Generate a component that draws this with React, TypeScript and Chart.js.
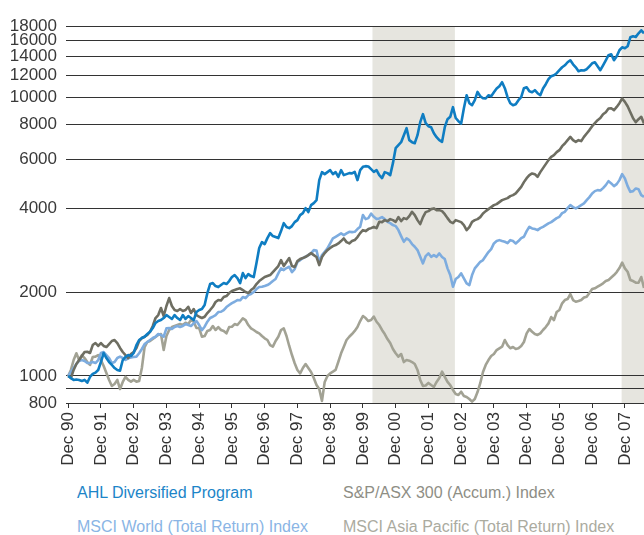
import React, { useEffect, useRef } from 'react';
import { Chart, registerables } from 'chart.js';

Chart.register(...registerables);

const seriesNames = [
  'AHL Diversified Program',
  'S&P/ASX 300 (Accum.) Index',
  'MSCI World (Total Return) Index',
  'MSCI Asia Pacific (Total Return) Index',
];

const xTickLabels = [
  'Dec 90', 'Dec 91', 'Dec 92', 'Dec 93', 'Dec 94', 'Dec 95', 'Dec 96', 'Dec 97', 'Dec 98',
  'Dec 99', 'Dec 00', 'Dec 01', 'Dec 02', 'Dec 03', 'Dec 04', 'Dec 05', 'Dec 06', 'Dec 07',
];

const yTickValues = [800, 900, 1000, 2000, 4000, 6000, 8000, 10000, 12000, 14000, 16000, 18000];

// months since Dec 90
const shadedPeriods: [number, number][] = [
  [111.5, 141.7],
  [202.8, 212],
];

const ahl = [
  1000, 983, 968, 971, 968, 960, 968, 946, 992, 1017, 1028, 1051,
  1122, 1209, 1160, 1122, 1095, 1068, 1051, 1045, 1141, 1170, 1189, 1179,
  1209, 1291, 1346, 1368, 1383, 1414, 1441, 1486, 1549, 1574, 1587, 1614,
  1654, 1627, 1601, 1654, 1614, 1587, 1654, 1601, 1641, 1614, 1587, 1696,
  1724, 1738, 1797, 1984, 2137, 2154, 2102, 2084, 2119, 2154, 2137, 2190,
  2264, 2301, 2245, 2154, 2340, 2245, 2320, 2282, 2264, 2541, 2876, 3021,
  2972, 3123, 3254, 3175, 3149, 3123, 3309, 3534, 3420, 3391, 3448, 3563,
  3623, 3776, 3838, 4000, 3870, 4100, 4169, 4273, 5040, 5384, 5296, 5384,
  5474, 5296, 5384, 5179, 5474, 5252, 5296, 5340, 5330, 5397, 5040, 5474,
  5625, 5657, 5640, 5519, 5397, 5474, 5252, 5123, 5384, 5340, 5252, 5799,
  6563, 6728, 6896, 7306, 7741, 7011, 6896, 6839, 7306, 8134, 8688, 8067,
  7869, 7805, 7428, 7186, 7011, 6913, 7805, 8337, 8504, 9205, 8420, 8201,
  8043, 9129, 10163, 9514, 9358, 9752, 10444, 10079, 9914, 9890, 10163, 10079,
  10418, 10741, 10947, 11314, 10766, 9995, 9514, 9358, 9436, 9752, 9995, 10766,
  10856, 10504, 10418, 10591, 10332, 10163, 10741, 11128, 11597, 11888, 11986, 12185,
  12492, 12803, 13015, 13343, 13564, 13123, 12803, 12389, 12492, 12470, 12596, 12909,
  13233, 13343, 12909, 12492, 13015, 13564, 14138, 14255, 13564, 14022, 14733, 15101,
  14977, 15228, 16400, 16536, 16450, 16950, 17376, 16950,
];

const asx300 = [
  1000, 983, 1051, 1104, 1141, 1179, 1219, 1222, 1209, 1291, 1313, 1281,
  1313, 1281, 1270, 1302, 1335, 1346, 1313, 1260, 1219, 1189, 1160, 1199,
  1219, 1260, 1335, 1368, 1383, 1403, 1441, 1511, 1614, 1654, 1753, 1641,
  1782, 1903, 1782, 1724, 1710, 1738, 1710, 1724, 1771, 1682, 1738, 1654,
  1631, 1614, 1631, 1682, 1724, 1771, 1842, 1872, 1865, 1919, 1935, 1984,
  2017, 2033, 2050, 2062, 2033, 2000, 1984, 2033, 2067, 2137, 2190, 2227,
  2264, 2282, 2301, 2359, 2418, 2479, 2604, 2479, 2562, 2648, 2479, 2458,
  2583, 2626, 2648, 2676, 2714, 2759, 2714, 2670, 2499, 2670, 2759, 2828,
  2876, 2923, 2948, 2989, 3047, 3115, 3021, 2989, 3047, 3072, 3149, 3254,
  3336, 3309, 3364, 3391, 3428, 3391, 3572, 3563, 3623, 3593, 3653, 3623,
  3572, 3714, 3593, 3683, 3653, 3745, 3880, 3776, 3623, 3505, 3714, 3870,
  3902, 3967, 3990, 3935, 3935, 3902, 3806, 3683, 3572, 3534, 3623, 3593,
  3563, 3477, 3336, 3420, 3572, 3623, 3653, 3714, 3828, 3902, 3967, 4033,
  4100, 4134, 4203, 4273, 4309, 4344, 4416, 4453, 4516, 4641, 4769, 4958,
  5123, 5252, 5326, 5296, 5179, 5384, 5565, 5752, 5945, 6109, 6196, 6350,
  6456, 6673, 6822, 7011, 7204, 7011, 6913, 7011, 6955, 7204, 7412, 7619,
  7869, 8067, 8270, 8420, 8688, 8833, 9107, 9129, 8979, 9228, 9514, 9889,
  9616, 9281, 8833, 8399, 8134, 8337, 8504, 8043,
];

const msciWorld = [
  1000, 1034, 1068, 1104, 1132, 1141, 1132, 1113, 1113, 1122, 1113, 1141,
  1209, 1219, 1189, 1160, 1113, 1122, 1160, 1173, 1160, 1141, 1157, 1165,
  1170, 1173, 1206, 1250, 1302, 1324, 1346, 1368, 1383, 1414, 1403, 1383,
  1482, 1486, 1474, 1498, 1511, 1498, 1511, 1535, 1523, 1511, 1544, 1574,
  1523, 1461, 1502, 1565, 1614, 1631, 1654, 1696, 1700, 1724, 1767, 1797,
  1826, 1846, 1872, 1868, 1919, 1903, 1951, 1967, 2000, 2050, 2084, 2090,
  2102, 2119, 2149, 2190, 2227, 2334, 2432, 2398, 2438, 2464, 2359, 2418,
  2562, 2604, 2648, 2676, 2714, 2752, 2828, 2820, 2562, 2714, 2789, 2868,
  2989, 3115, 3157, 3201, 3246, 3201, 3246, 3289, 3281, 3289, 3364, 3428,
  3776, 3653, 3683, 3822, 3723, 3653, 3674, 3714, 3653, 3572, 3534, 3477,
  3448, 3336, 3175, 3029, 3115, 3071, 2972, 2907, 2828, 2676, 2534, 2692,
  2752, 2676, 2714, 2676, 2752, 2670, 2626, 2432, 2301, 2090, 2227, 2264,
  2334, 2240, 2149, 2119, 2301, 2432, 2499, 2568, 2604, 2692, 2783, 2852,
  2989, 3047, 3071, 3047, 3029, 2997, 3071, 3047, 2989, 3047, 3123, 3157,
  3309, 3428, 3383, 3364, 3336, 3391, 3428, 3477, 3526, 3563, 3623, 3683,
  3723, 3838, 3880, 4000, 4100, 4033, 3990, 4043, 4100, 4158, 4273, 4380,
  4516, 4603, 4640, 4625, 4718, 4836, 4999, 4904, 4796, 4876, 5040, 5296,
  5111, 4796, 4576, 4603, 4706, 4676, 4453, 4391,
];

const msciAsiaPacific = [
  1000, 1051, 1141, 1206, 1141, 1189, 1160, 1122, 1095, 1170, 1173, 1189,
  1141, 1086, 1025, 968, 921, 936, 968, 898, 952, 992, 968, 954,
  968, 954, 960, 1068, 1270, 1324, 1335, 1357, 1380, 1403, 1414, 1239,
  1391, 1462, 1498, 1511, 1523, 1535, 1523, 1552, 1535, 1587, 1565, 1486,
  1486, 1383, 1391, 1450, 1462, 1511, 1462, 1498, 1462, 1450, 1422, 1498,
  1502, 1535, 1523, 1565, 1610, 1587, 1523, 1482, 1462, 1438, 1422, 1391,
  1365, 1346, 1291, 1274, 1335, 1383, 1462, 1482, 1391, 1281, 1189, 1111,
  1051, 1022, 1068, 1104, 1068, 1034, 983, 928, 898, 814, 952, 1000,
  1022, 1036, 1051, 1125, 1206, 1274, 1346, 1383, 1414, 1450, 1498, 1574,
  1641, 1614, 1574, 1587, 1634, 1565, 1523, 1462, 1414, 1357, 1313, 1250,
  1206, 1173, 1199, 1122, 1141, 1135, 1122, 1104, 1051, 968, 921, 925,
  944, 928, 913, 952, 983, 1036, 992, 952, 928, 891, 862, 855,
  878, 848, 841, 827, 809, 827, 876, 942, 1034, 1095, 1141, 1179,
  1199, 1239, 1257, 1274, 1346, 1291, 1257, 1270, 1250, 1257, 1281, 1324,
  1422, 1474, 1441, 1414, 1403, 1422, 1462, 1498, 1544, 1627, 1587, 1696,
  1724, 1822, 1872, 1888, 1967, 1872, 1846, 1857, 1872, 1911, 1924, 1984,
  2050, 2062, 2090, 2119, 2149, 2190, 2209, 2254, 2301, 2359, 2438, 2551,
  2432, 2365, 2209, 2190, 2160, 2160, 2264, 2067,
];

const lineColors = ['#0f7dc2', '#6e6e62', '#7dacdf', '#a2a294'];
const legendColors = ['#1c85c8', '#8e8e85', '#8ab5e5', '#abab9f'];

const FONT = "'Liberation Sans', Arial, Helvetica, sans-serif";
const CANVAS_H = 480;
const PLOT_BOTTOM = 403;

export default function App() {
  const ref = useRef<HTMLCanvasElement | null>(null);

  useEffect(() => {
    if (!ref.current) return;
    const shade = {
      id: 'shade',
      beforeDraw(chart: any) {
        const { ctx, chartArea, scales } = chart;
        ctx.save();
        ctx.fillStyle = '#e6e5df';
        for (const [a, b] of shadedPeriods) {
          const x1 = Math.max(scales.x.getPixelForValue(a), chartArea.left);
          const x2 = Math.min(scales.x.getPixelForValue(b), chartArea.right);
          ctx.fillRect(x1, chartArea.top, x2 - x1, chartArea.bottom - chartArea.top);
        }
        ctx.restore();
      },
    };

    const allSeries = [ahl, asx300, msciWorld, msciAsiaPacific];
    const chart = new Chart(ref.current, {
      type: 'line',
      data: {
        datasets: allSeries.map((s, k) => ({
          label: seriesNames[k],
          data: s.map((v, i) => ({ x: i, y: v })),
          borderColor: lineColors[k],
          backgroundColor: lineColors[k],
          borderWidth: 2.6,
          pointRadius: 0,
          tension: 0,
          fill: false,
          borderJoinStyle: 'round' as const,
        })),
      },
      options: {
        responsive: false,
        animation: false,
        events: [],
        layout: { padding: { top: 26, right: 0, left: 0, bottom: 0 } },
        plugins: { legend: { display: false }, tooltip: { enabled: false } },
        scales: {
          x: {
            type: 'linear',
            min: -0.8,
            max: 211,
            afterBuildTicks: (s: any) => {
              s.ticks = xTickLabels.map((_, k) => ({ value: k * 12 }));
            },
            afterFit: (s: any) => {
              s.height = CANVAS_H - PLOT_BOTTOM;
              s.paddingRight = 0;
              s.paddingLeft = 0;
            },
            ticks: {
              autoSkip: false,
              minRotation: 90,
              maxRotation: 90,
              padding: 4,
              color: '#333333',
              font: { family: FONT, size: 17 },
              callback: (v: any) => xTickLabels[Math.round(Number(v) / 12)] ?? '',
            },
            grid: { drawOnChartArea: false, drawTicks: true, tickLength: 5, color: '#333333' },
            border: { display: true, color: '#333333', width: 1 },
          },
          y: {
            type: 'logarithmic',
            min: 800,
            max: 18000,
            afterBuildTicks: (s: any) => {
              s.ticks = yTickValues.map((v) => ({ value: v }));
            },
            afterFit: (s: any) => {
              s.width = 66;
            },
            ticks: {
              autoSkip: false,
              padding: 9,
              color: '#3a3a3a',
              font: { family: FONT, size: 17 },
              callback: (v: any) => (Number(v) === 900 ? '' : String(v)),
            },
            grid: { drawTicks: false, color: '#333333', lineWidth: 1 },
            border: { display: false },
          },
        },
      },
      plugins: [shade],
    } as any);
    return () => chart.destroy();
  }, []);

  const legendItems = [
    { k: 0, left: 77, top: 484 },
    { k: 1, left: 343, top: 484 },
    { k: 2, left: 77, top: 518 },
    { k: 3, left: 343, top: 518 },
  ];

  return (
    <div style={{ position: 'absolute', left: 0, top: 0, width: 644, height: 535, background: '#fff', fontFamily: FONT }}>
      <canvas ref={ref} width={644} height={CANVAS_H} style={{ position: 'absolute', left: 0, top: 0, display: 'block' }} />
      {legendItems.map(({ k, left, top }) => (
        <div
          key={k}
          style={{
            position: 'absolute',
            left,
            top,
            fontSize: 16,
            lineHeight: '18px',
            color: legendColors[k],
            whiteSpace: 'nowrap',
          }}
        >
          {seriesNames[k]}
        </div>
      ))}
    </div>
  );
}
